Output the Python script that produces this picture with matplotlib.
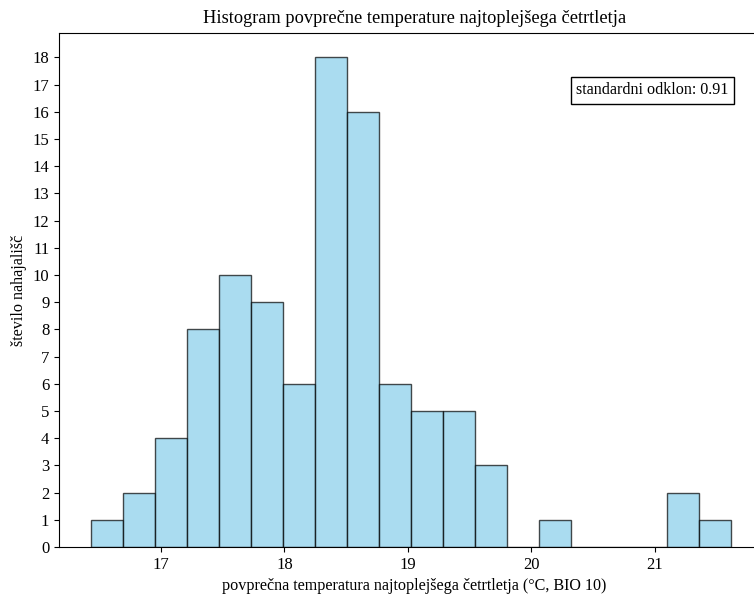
import numpy as np
import matplotlib.pyplot as plt

plt.rcParams['font.family'] = ['Liberation Serif', 'DejaVu Serif']

# histogram counts per bin (20 bins)
counts = [1, 2, 4, 8, 10, 9, 6, 18, 16, 6, 5, 5, 3, 0, 1, 0, 0, 0, 2, 1]
bin_start = 16.433
bin_width = 0.2593
std_text = 'standardni odklon: 0.91'

edges = bin_start + bin_width * np.arange(len(counts) + 1)
centers = (edges[:-1] + edges[1:]) / 2

fig = plt.figure(figsize=(7.54, 5.97), dpi=100)
# axes runs past the right edge (reference is cropped there)
ax = fig.add_axes([59/754, 50/597, 711/754, 514/597])

ax.hist(centers, bins=edges, weights=counts, color='skyblue', edgecolor='black', alpha=0.7)

ax.set_xlim(16.173, 21.935)
ax.set_yticks(range(0, 19))
ax.set_xticks([17, 18, 19, 20, 21])
ax.tick_params(axis='both', labelsize=12)
ax.set_xlabel('povprečna temperatura najtoplejšega četrtletja (°C, BIO 10)', fontsize=11.6)
ax.set_ylabel('število nahajališč', fontsize=11.6)
ax.set_title('Histogram povprečne temperature najtoplejšega četrtletja', fontsize=13.2, pad=7)

ax.text(0.942, 0.904, std_text, transform=ax.transAxes, ha='right', va='top', fontsize=11.6,
        bbox=dict(facecolor='white', edgecolor='black'))

plt.savefig('out.png', dpi=100)
